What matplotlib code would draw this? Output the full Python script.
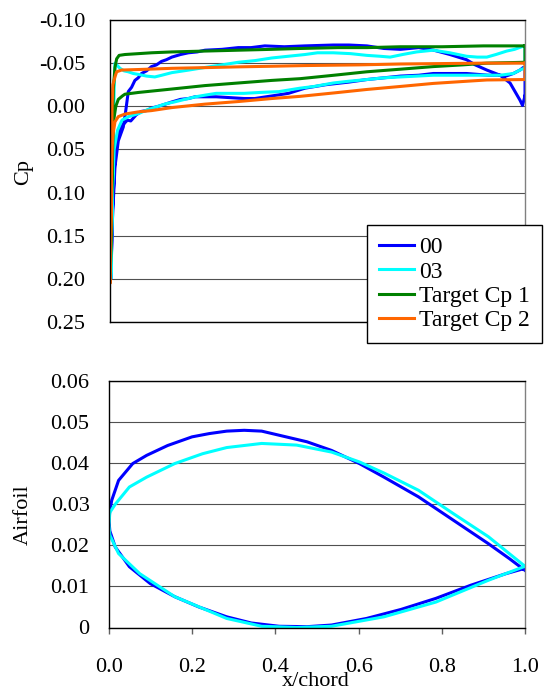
import numpy as np
import matplotlib
matplotlib.use("Agg")
import matplotlib.pyplot as plt

plt.rcParams["font.family"] = ["Liberation Serif", "DejaVu Serif"]
plt.rcParams["axes.unicode_minus"] = False

# ---- Cp distributions (upper / lower surfaces, leading edge -> trailing edge)
cp00_up_x = [0.002, 0.006, 0.012, 0.020, 0.032, 0.038, 0.044, 0.052, 0.060, 0.068, 0.076, 0.088,
             0.100, 0.112, 0.124, 0.136, 0.149, 0.170, 0.189, 0.210, 0.229, 0.270, 0.309, 0.340,
             0.373, 0.420, 0.470, 0.538, 0.576, 0.619, 0.660, 0.700, 0.744, 0.780, 0.819, 0.859,
             0.880, 0.908, 0.940, 0.964, 0.988, 0.994, 1.000]
cp00_up = [0.200, 0.130, 0.070, 0.040, 0.024, 0.005, -0.017, -0.022, -0.030, -0.033, -0.038, -0.041,
           -0.046, -0.048, -0.052, -0.054, -0.057, -0.060, -0.062, -0.063, -0.065, -0.066, -0.068, -0.068,
           -0.070, -0.069, -0.070, -0.071, -0.071, -0.070, -0.067, -0.066, -0.068, -0.065, -0.060, -0.054,
           -0.048, -0.042, -0.036, -0.027, -0.007, -0.001, -0.012]
cp00_lo_x = [0.002, 0.006, 0.012, 0.018, 0.024, 0.030, 0.036, 0.042, 0.050, 0.063, 0.075, 0.088,
             0.100, 0.113, 0.130, 0.149, 0.170, 0.189, 0.205, 0.229, 0.256, 0.290, 0.323, 0.349,
             0.390, 0.430, 0.470, 0.520, 0.575, 0.619, 0.660, 0.700, 0.744, 0.779, 0.828, 0.859,
             0.912, 0.940, 0.954, 0.972, 0.988, 0.996, 1.000]
cp00_lo = [0.200, 0.120, 0.060, 0.035, 0.025, 0.022, 0.019, 0.016, 0.017, 0.010, 0.006, 0.005,
           0.002, 0.0005, -0.002, -0.005, -0.008, -0.009, -0.011, -0.011, -0.011, -0.010, -0.009, -0.009,
           -0.012, -0.015, -0.021, -0.025, -0.028, -0.031, -0.033, -0.035, -0.036, -0.038, -0.038, -0.038,
           -0.036, -0.036, -0.035, -0.038, -0.042, -0.045, -0.045]

cp03_up_x = [0.002, 0.005, 0.008, 0.010, 0.012, 0.016, 0.024, 0.034, 0.044, 0.056, 0.068, 0.088,
             0.108, 0.125, 0.149, 0.190, 0.229, 0.270, 0.309, 0.350, 0.390, 0.430, 0.470, 0.500,
             0.538, 0.580, 0.619, 0.650, 0.675, 0.705, 0.739, 0.779, 0.819, 0.859, 0.885, 0.908,
             0.930, 0.956, 0.975, 0.992, 1.000]
cp03_up = [0.200, 0.120, 0.040, -0.020, -0.050, -0.048, -0.044, -0.041, -0.040, -0.038, -0.037, -0.035,
           -0.034, -0.036, -0.039, -0.042, -0.045, -0.048, -0.051, -0.053, -0.056, -0.058, -0.060, -0.062,
           -0.062, -0.061, -0.059, -0.058, -0.057, -0.060, -0.063, -0.065, -0.062, -0.058, -0.057, -0.057,
           -0.060, -0.064, -0.066, -0.069, -0.070]
cp03_lo_x = [0.002, 0.006, 0.010, 0.018, 0.029, 0.045, 0.071, 0.090, 0.113, 0.135, 0.155, 0.180,
             0.206, 0.230, 0.256, 0.290, 0.323, 0.360, 0.407, 0.458, 0.492, 0.538, 0.575, 0.619,
             0.660, 0.699, 0.740, 0.779, 0.820, 0.859, 0.900, 0.940, 0.972, 0.992, 1.000]
cp03_lo = [0.200, 0.100, 0.050, 0.028, 0.016, 0.012, 0.008, 0.004, 0.0005, -0.003, -0.005, -0.008,
           -0.011, -0.013, -0.015, -0.015, -0.015, -0.016, -0.017, -0.021, -0.023, -0.027, -0.029, -0.031,
           -0.033, -0.034, -0.035, -0.036, -0.036, -0.036, -0.036, -0.036, -0.038, -0.043, -0.044]

cpt1_up_x = [0.001, 0.004, 0.006, 0.008, 0.012, 0.016, 0.022, 0.036, 0.068, 0.100, 0.149, 0.229,
             0.309, 0.390, 0.458, 0.550, 0.619, 0.700, 0.800, 0.900, 1.000]
cpt1_up = [0.190, 0.100, 0.030, -0.020, -0.045, -0.055, -0.059, -0.060, -0.061, -0.062, -0.063, -0.064,
           -0.065, -0.066, -0.067, -0.068, -0.068, -0.069, -0.069, -0.070, -0.070]
cpt1_lo_x = [0.001, 0.004, 0.007, 0.008, 0.014, 0.020, 0.030, 0.036, 0.068, 0.149, 0.229, 0.309,
             0.390, 0.458, 0.540, 0.619, 0.700, 0.779, 0.850, 0.908, 1.000]
cpt1_lo = [0.190, 0.100, 0.040, 0.019, 0.000, -0.008, -0.012, -0.014, -0.016, -0.020, -0.024, -0.027,
           -0.030, -0.032, -0.036, -0.040, -0.043, -0.046, -0.048, -0.050, -0.051]

cpt2_up_x = [0.000, 0.003, 0.005, 0.007, 0.012, 0.016, 0.028, 0.068, 0.149, 0.229, 0.309, 0.390,
             0.470, 0.600, 0.699, 0.800, 0.900, 1.000]
cpt2_up = [0.205, 0.100, 0.000, -0.025, -0.034, -0.040, -0.042, -0.0426, -0.044, -0.0448, -0.0457, -0.0464,
           -0.0472, -0.048, -0.049, -0.0495, -0.050, -0.050]
cpt2_lo_x = [0.000, 0.003, 0.005, 0.008, 0.012, 0.020, 0.036, 0.068, 0.100, 0.149, 0.229, 0.309,
             0.390, 0.458, 0.540, 0.619, 0.700, 0.779, 0.859, 0.908, 1.000]
cpt2_lo = [0.205, 0.100, 0.045, 0.030, 0.018, 0.012, 0.009, 0.0065, 0.005, 0.0015, -0.0025, -0.0055,
           -0.009, -0.0115, -0.0155, -0.0195, -0.023, -0.0265, -0.029, -0.0305, -0.031]

# ---- airfoil shapes
af00_up_x = [0.0, 0.002, 0.0067, 0.023, 0.057, 0.0905, 0.141, 0.1995, 0.241, 0.283, 0.325, 0.367,
             0.409, 0.476, 0.535, 0.602, 0.661, 0.744, 0.828, 0.912, 0.962, 1.0]
af00_up = [0.026, 0.0285, 0.031, 0.0358, 0.0399, 0.0419, 0.0443, 0.0464, 0.0472, 0.0478, 0.048, 0.0478,
           0.0468, 0.0452, 0.0431, 0.0399, 0.0366, 0.0318, 0.0261, 0.0204, 0.0168, 0.0139]
af00_lo_x = [0.0, 0.002, 0.015, 0.049, 0.099, 0.158, 0.216, 0.283, 0.342, 0.409, 0.476, 0.535,
             0.619, 0.702, 0.786, 0.870, 0.954, 1.0]
af00_lo = [0.026, 0.0235, 0.0196, 0.0148, 0.0107, 0.0075, 0.0050, 0.0026, 0.0011, 0.0003, 0.0002, 0.0006,
           0.0022, 0.0044, 0.0071, 0.0103, 0.0131, 0.0144]
af03_up_x = [0.0, 0.002, 0.015, 0.049, 0.0905, 0.158, 0.225, 0.283, 0.367, 0.451, 0.535, 0.602,
             0.661, 0.744, 0.828, 0.912, 0.962, 1.0]
af03_up = [0.025, 0.028, 0.030, 0.0342, 0.0366, 0.0399, 0.0423, 0.0438, 0.0448, 0.0444, 0.0427, 0.0403,
           0.0376, 0.0334, 0.0277, 0.0221, 0.018, 0.0149]
af03_lo_x = [0.0, 0.002, 0.023, 0.074, 0.158, 0.283, 0.367, 0.451, 0.535, 0.661, 0.786, 0.912, 1.0]
af03_lo = [0.025, 0.0225, 0.018, 0.0131, 0.0075, 0.0022, 0.0003, 0.0, 0.0003, 0.0026, 0.0062, 0.0115, 0.0149]

labels = ["00", "03", "Target Cp 1", "Target Cp 2"]
colors = ["#0000FF", "#00FFFF", "#008000", "#FF6600"]

cp_yticks = [-0.10, -0.05, 0.00, 0.05, 0.10, 0.15, 0.20, 0.25]
cp_ylabels = ["-0.10", "-0.05", "0.00", "0.05", "0.10", "0.15", "0.20", "0.25"]
af_yticks = [0, 0.01, 0.02, 0.03, 0.04, 0.05, 0.06]
af_ylabels = ["0", "0.01", "0.02", "0.03", "0.04", "0.05", "0.06"]
xticks = [0.0, 0.2, 0.4, 0.6, 0.8, 1.0]
xlabels = ["0.0", "0.2", "0.4", "0.6", "0.8", "1.0"]


def loop(ux, uy, lx, ly):
    # upper surface TE->LE, lower LE->TE, then close at the trailing edge
    x = list(ux[::-1]) + list(lx) + [ux[-1]]
    y = list(uy[::-1]) + list(ly) + [uy[-1]]
    return np.array(x), np.array(y)


def style_axes(ax):
    for side in ["left", "bottom", "top"]:
        ax.spines[side].set_color("black")
        ax.spines[side].set_linewidth(1.0)
    ax.spines["right"].set_color("#808080")
    ax.spines["right"].set_linewidth(1.0)
    ax.set_axisbelow(True)
    ax.yaxis.grid(True, color="#505050", linewidth=0.8)
    ax.set_xlim(0, 1)


W, H = 547, 693
fig = plt.figure(figsize=(W / 100, H / 100), dpi=100)

# top: Cp
ax1 = fig.add_axes([110 / W, 1 - 322 / H, 415 / W, 302 / H])
style_axes(ax1)
cp_sets = [
    (cp00_up_x, cp00_up, cp00_lo_x, cp00_lo),
    (cp03_up_x, cp03_up, cp03_lo_x, cp03_lo),
    (cpt1_up_x, cpt1_up, cpt1_lo_x, cpt1_lo),
    (cpt2_up_x, cpt2_up, cpt2_lo_x, cpt2_lo),
]
handles = []
for (ux, uy, lx, ly), c, lab in zip(cp_sets, colors, labels):
    x, y = loop(ux, uy, lx, ly)
    (h,) = ax1.plot(x, y, color=c, lw=2.2, label=lab, solid_joinstyle="round")
    handles.append(h)
ax1.set_ylim(0.25, -0.10)
ax1.set_yticks(cp_yticks)
ax1.set_yticklabels(cp_ylabels, fontsize=16)
ax1.tick_params(axis="y", length=0, pad=18)
ax1.set_xticks([])
fig.text(24 / W, 1 - 172 / H, "Cp", rotation=90, ha="center", va="center", fontsize=16)

# bottom: airfoil
ax2 = fig.add_axes([109 / W, 1 - 627.5 / H, 416 / W, 246.5 / H])
style_axes(ax2)
for (ux, uy, lx, ly), c in zip([(af00_up_x, af00_up, af00_lo_x, af00_lo),
                                (af03_up_x, af03_up, af03_lo_x, af03_lo)], colors[:2]):
    x = list(ux[::-1]) + list(lx)
    y = list(uy[::-1]) + list(ly)
    ax2.plot(x, y, color=c, lw=2.2, solid_joinstyle="round")
ax2.set_ylim(0, 0.06)
ax2.set_yticks(af_yticks)
ax2.set_yticklabels(af_ylabels, fontsize=16)
ax2.tick_params(axis="y", length=0, pad=14)
ax2.set_xticks(xticks)
ax2.set_xticklabels(xlabels, fontsize=16)
ax2.tick_params(axis="x", direction="out", length=4, width=1, color="#606060", pad=18)
fig.text(23 / W, 1 - 515 / H, "Airfoil", rotation=90, ha="center", va="center", fontsize=16)
fig.text(316 / W, 1.5 / H, "x/chord", ha="center", va="bottom", fontsize=16)

leg = fig.legend(handles, labels, loc="upper left", bbox_to_anchor=(367 / W, 1 - 225 / H),
                 bbox_transform=fig.transFigure, borderaxespad=0, frameon=True, fancybox=False,
                 edgecolor="black", framealpha=1, fontsize=17, borderpad=0.5, handlelength=1.5,
                 handletextpad=0.2, labelspacing=0.12)
leg.get_frame().set_linewidth(1.0)

fig.savefig("out.png", dpi=100)
